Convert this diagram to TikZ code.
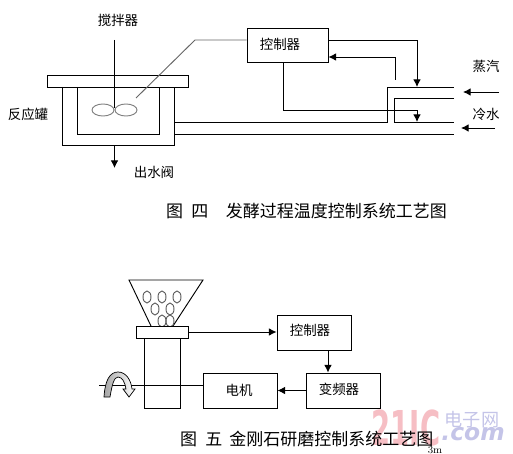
\documentclass[tikz,border=0pt]{standalone}
\usepackage{fontspec}
\usepackage{graphicx}
\usepackage{xcolor}
\usepackage{tikz}
\usetikzlibrary{calc, arrows.meta}
\newfontfamily\cjk{Noto Sans CJK SC}
\newfontfamily\markfont{DejaVu Sans}
\definecolor{markpink}{RGB}{246,190,196}
\definecolor{markblue}{RGB}{196,196,232}
\tikzset{
    ctrlbox/.style={draw, line width=0.8pt, inner sep=0pt},
    lbl/.style={font=\cjk\fontsize{11.5}{12}\selectfont, inner sep=0pt},
    captxt/.style={font=\cjk\fontsize{14.5}{15}\selectfont, inner sep=0pt, anchor=west},
    pipe/.style={line width=0.8pt},
    flow/.style={line width=0.8pt, -{Latex[length=6.5pt,width=6.5pt]}}
}
\begin{document}
\begin{tikzpicture}[x=0.03cm, y=-0.03cm]
    \useasboundingbox (0,0) rectangle (513,453);
    % 1. watermark
    \node[font=\markfont\bfseries\fontsize{41}{41}\selectfont, text=markpink, inner sep=0pt] (markic) at (406,428) {\scalebox{0.57}[1]{21IC}};
    \node[font=\cjk\fontsize{15.5}{16}\selectfont, text=markblue, inner sep=0pt] (markcn) at (472,420) {电子网};
    \node[font=\markfont\bfseries\itshape\fontsize{20}{20}\selectfont, text=markblue, inner sep=0pt, anchor=base] (markcom) at (473,440) {.com};

    % 2. tank
    \draw[pipe] (47,75) rectangle (188,87);
    \draw[pipe] (62,87) -- (62,145) -- (174,145) -- (174,87);
    \draw[pipe] (77,87) -- (77,134) -- (159,134) -- (159,87);
    \draw[pipe] (114.5,40) -- (114.5,108);
    \draw[pipe, gray] (103,110) ellipse (11 and 6);
    \draw[pipe, gray] (126,110) ellipse (11 and 6);
    \node[lbl] (stirlbl) at (118,20) {搅拌器};
    \node[lbl] (tanklbl) at (28,114) {反应罐};
    \node[lbl] (outlbl) at (154,172) {出水阀};
    \coordinate (tankout) at (114.5,145);
    \coordinate (outend) at (114.5,168);
    \draw[flow] (tankout) -- (outend);

    % 3. controller and lines
    \node[ctrlbox, minimum width=81*0.03cm, minimum height=34.5*0.03cm] (ctrla) at (287.5,45.25) {};
    \node[lbl] (ctrlalbl) at (280,44) {控制器};
    \coordinate (sense) at (136,98);
    \draw[pipe, gray!80!black] (sense) -- (195,40) -- (ctrla.west |- 0,40);
    \draw[flow] (ctrla.east |- 0,40) -- (417,40) -- (417,87);
    \draw[flow] (395,80) -- (395,57) -- (ctrla.east |- 0,57);
    \draw[flow] (283.5,62.5) -- (283.5,110) -- (417,110) -- (417,122);

    % 4. pipes
    \draw[pipe] (174,122) -- (387,122) -- (387,87) -- (454,87);
    \draw[pipe] (454,98) -- (394.5,98) -- (394.5,122) -- (454,122);
    \draw[pipe] (174,134) -- (454,134);
    \draw[flow] (499,92) -- (463,92);
    \draw[flow] (495,128) -- (461,128);
    \node[lbl] (steamlbl) at (486,66) {蒸汽};
    \node[lbl] (waterlbl) at (486,114) {冷水};
    \node[captxt] (capa) at (166,211) {图\hspace{7pt}四\hspace{15pt}发酵过程温度控制系统工艺图};

    % 5. hopper
    \draw[pipe] (151,326) -- (129,280) -- (203,280) -- (173,326);
    \foreach \px/\py in {147/297,162/297,177/297,155/309,170/309,162/321,170/321} {
        \draw[pipe, gray!70!black] (\px,\py) ellipse (4 and 6);
    }
    \node[ctrlbox, fill=white, minimum width=52*0.03cm, minimum height=12*0.03cm] (plate) at (162,332) {};
    \draw[pipe] (144,338) -- (144,408) -- (180.5,408) -- (180.5,338);

    % 6. control chain
    \node[ctrlbox, minimum width=74*0.03cm, minimum height=35*0.03cm] (motor) at (240,390.5) {};
    \node[ctrlbox, minimum width=74*0.03cm, minimum height=35*0.03cm] (inverter) at (343,390.5) {};
    \node[ctrlbox, minimum width=74*0.03cm, minimum height=35*0.03cm] (ctrlb) at (314,332.5) {};
    \node[lbl] (motorlbl) at (239,390) {电机};
    \node[lbl] (inverterlbl) at (339,389) {变频器};
    \node[lbl] (ctrlblbl) at (310,330) {控制器};
    \draw[flow] (plate.east) -- (plate.east -| ctrlb.west);
    \draw[flow] (ctrlb.south -| 328,0) -- (inverter.north -| 328,0);
    \draw[flow] (inverter.west) -- (motor.east);
    \coordinate (shaftend) at (99,385);
    \draw[pipe] (shaftend) -- (motor.west |- shaftend);
    % curved arrow on shaft
    \draw[left color=gray!70, right color=white, line width=0.6pt] (104,397) .. controls (105,380) and (110,372) .. (118,372)
        .. controls (126,372) and (131,380) .. (132,389) -- (135,389) -- (129,397) -- (123,389) -- (126,389)
        .. controls (125,382) and (122,377) .. (118,377) .. controls (114,377) and (112,385) .. (110,397) -- cycle;
    \node[captxt] (capb) at (180,439) {图\hspace{7pt}五\hspace{6pt}金刚石研磨控制系统工艺图};
    \node[font=\fontsize{9}{9}\selectfont, inner sep=0pt] (capmark) at (435,450) {3m};
\end{tikzpicture}
\end{document}
